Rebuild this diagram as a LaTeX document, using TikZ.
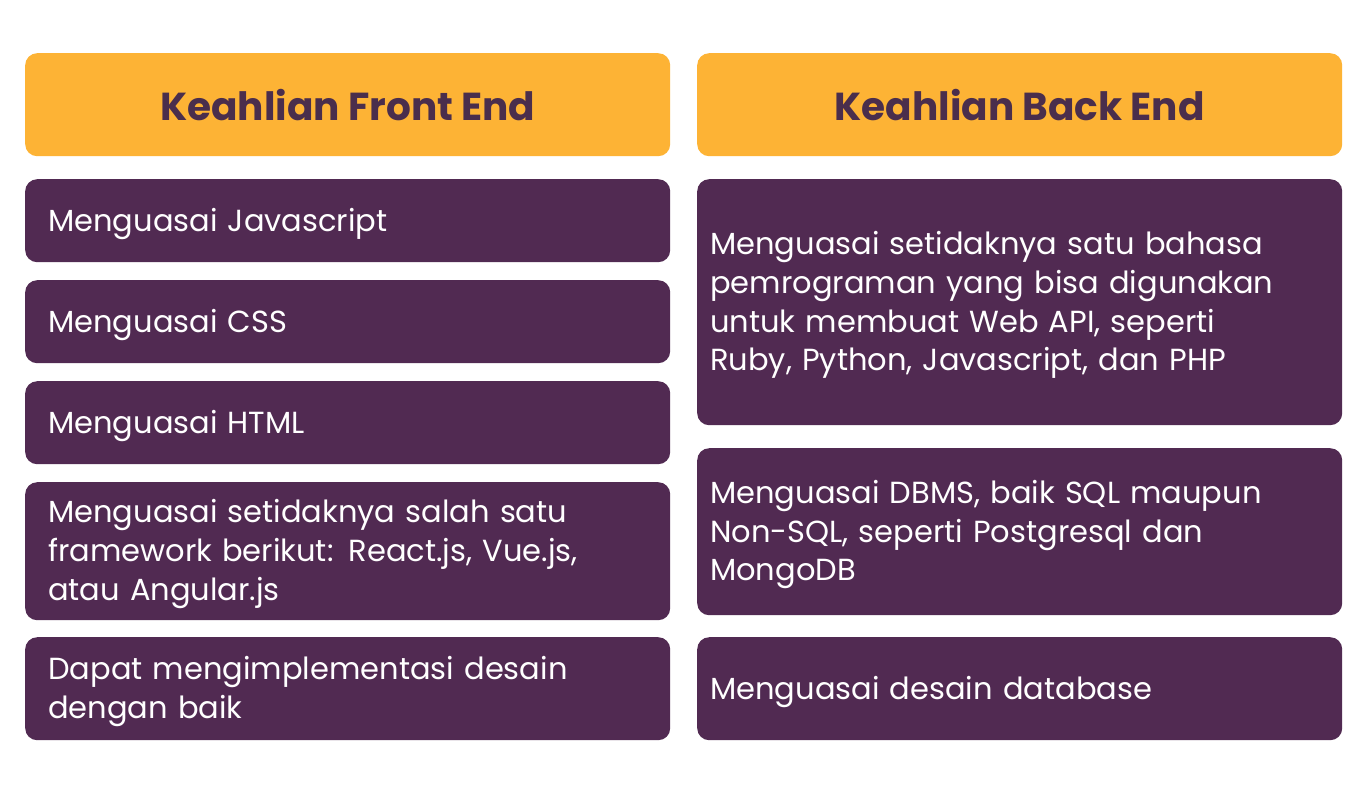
\documentclass[tikz,border=0pt]{standalone}
\usepackage{fontspec}
\setmainfont{Poppins}
\definecolor{hdrbg}{HTML}{FDB335}
\definecolor{boxbg}{HTML}{512A52}
\definecolor{hdrtxt}{HTML}{4A2E4C}
\begin{document}
\begin{tikzpicture}[x=1pt,y=-1pt,
  hdr/.style={anchor=north west,fill=hdrbg,rounded corners=12pt,minimum width=645pt,minimum height=103pt,
    text=hdrtxt,font=\fontsize{39}{46}\selectfont\bfseries,inner sep=0pt},
  card/.style={anchor=north west,fill=boxbg,rounded corners=12pt,minimum width=645pt,inner sep=0pt},
  ltxt/.style={text=white,align=left,text width=599pt,inner sep=0pt,font=\fontsize{30.5}{38.7}\selectfont},
  rtxt/.style={text=white,align=left,text width=619pt,inner sep=0pt,font=\fontsize{30.5}{38.7}\selectfont}]
\useasboundingbox[fill=white] (0,0) rectangle (1368,793);
\node[hdr] (hl) at (25,53) {Keahlian Front End};
\node[hdr] (hr) at (697,53) {Keahlian Back End};
\node[card,minimum height=83pt] (l1) at (25,179) {};
\node[card,minimum height=83pt] (l2) at (25,280) {};
\node[card,minimum height=83pt] (l3) at (25,381) {};
\node[card,minimum height=138pt] (l4) at (25,482) {};
\node[card,minimum height=103pt] (l5) at (25,637) {};
\node[card,minimum height=246pt] (r1) at (697,179) {};
\node[card,minimum height=167pt] (r2) at (697,448) {};
\node[card,minimum height=103pt] (r3) at (697,637) {};
\node[ltxt] (l1t) at ([yshift=-3pt]l1.center) {Menguasai Javascript};
\node[ltxt] (l2t) at ([yshift=-3pt]l2.center) {Menguasai CSS};
\node[ltxt] (l3t) at ([yshift=-3pt]l3.center) {Menguasai HTML};
\node[ltxt] (l4t) at ([yshift=-3pt]l4.center) {Menguasai setidaknya salah satu\\framework berikut: React.js, Vue.js,\\atau Angular.js};
\node[ltxt] (l5t) at ([yshift=-3pt]l5.center) {Dapat mengimplementasi desain\\dengan baik};
\node[rtxt] (r1t) at ([yshift=-3pt]r1.center) {Menguasai setidaknya satu bahasa\\pemrograman yang bisa digunakan\\untuk membuat Web API, seperti\\Ruby, Python, Javascript, dan PHP};
\node[rtxt] (r2t) at ([yshift=-3pt]r2.center) {Menguasai DBMS, baik SQL maupun\\Non-SQL, seperti Postgresql dan\\MongoDB};
\node[rtxt] (r3t) at ([yshift=-3pt]r3.center) {Menguasai desain database};
\end{tikzpicture}
\end{document}
